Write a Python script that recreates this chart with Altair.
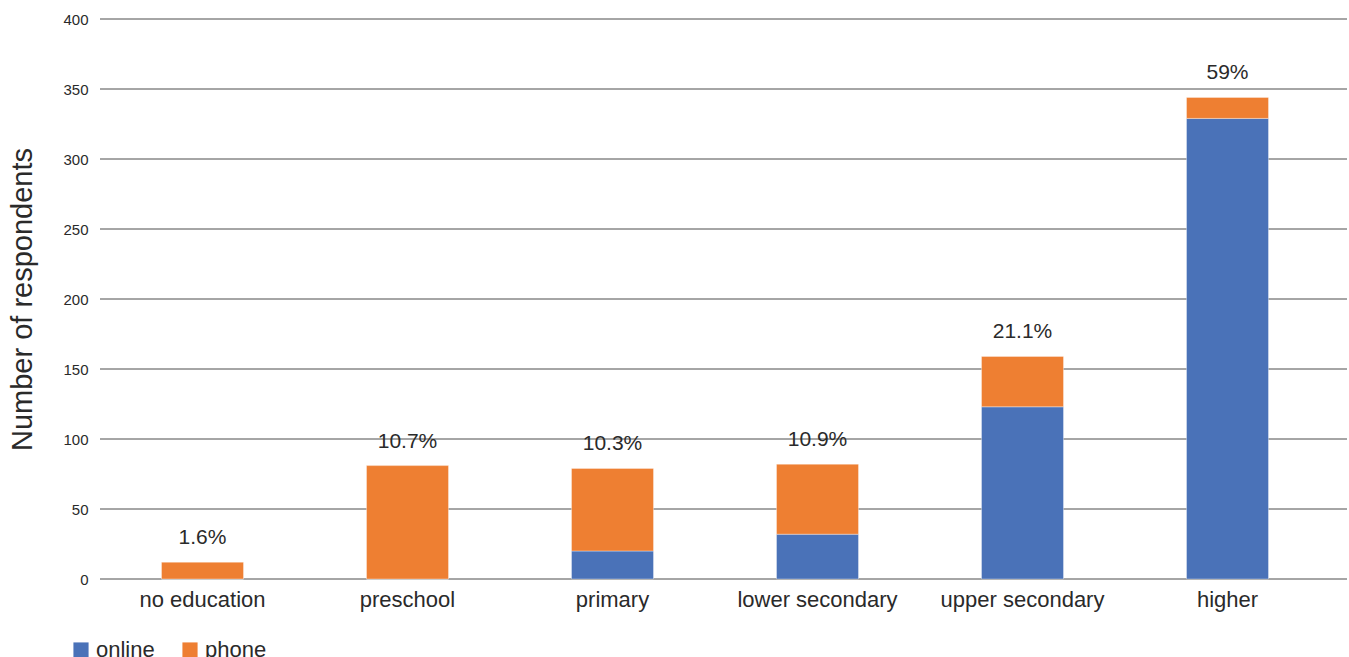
import altair as alt
import pandas as pd

categories = ["no education", "preschool", "primary", "lower secondary", "upper secondary", "higher"]
online = [0, 0, 20, 32, 123, 329]
phone = [12, 81, 59, 50, 36, 15]
pct_labels = ["1.6%", "10.7%", "10.3%", "10.9%", "21.1%", "59%"]
series = ["online", "phone"]
colors = ["#4A72B8", "#EE7F32"]
grid_values = [0, 50, 100, 150, 200, 250, 300, 350, 400]

rows = []
for c, o, p in zip(categories, online, phone):
    rows.append({"category": c, "mode": "online", "value": o, "ord": 0})
    rows.append({"category": c, "mode": "phone", "value": p, "ord": 1})
df = pd.DataFrame(rows)
tot = pd.DataFrame({"category": categories,
                    "total": [o + p for o, p in zip(online, phone)],
                    "label": pct_labels})
grid_df = pd.DataFrame({"g": grid_values})

FONT = "Liberation Sans"
TXT = "#2a2a2a"

xscale = alt.Scale(domain=categories, paddingInner=0.6, paddingOuter=0.3, range=[0, 1230])
yscale = alt.Scale(domain=[0, 400])

yaxis = alt.Axis(title="Number of respondents", values=grid_values,
                 labelFontSize=15, labelColor=TXT, labelFont=FONT,
                 labelPadding=12, ticks=False, domain=False, grid=False,
                 titleFontSize=29, titleFontWeight="normal", titleFont=FONT,
                 titleColor=TXT, titlePadding=25)

grid = alt.Chart(grid_df).mark_rule(color="#4d4d4d", strokeWidth=1).encode(
    y=alt.Y("g:Q", scale=yscale, axis=yaxis, title="Number of respondents"),
    x=alt.value(0), x2=alt.value(1247),
)

bars = alt.Chart(df).mark_bar(stroke="#ffffff", strokeWidth=0.6, strokeOpacity=0.6).encode(
    x=alt.X("category:N", scale=xscale, sort=categories,
            axis=alt.Axis(title=None, labelAngle=0, labelFontSize=22, labelColor=TXT,
                          labelFont=FONT, labelPadding=10, ticks=False, domain=False)),
    y=alt.Y("value:Q", stack="zero", scale=yscale, axis=yaxis, title="Number of respondents"),
    color=alt.Color("mode:N", scale=alt.Scale(domain=series, range=colors),
                    legend=alt.Legend(title=None, orient="none", legendX=-30, legendY=620,
                                      direction="horizontal", symbolType="square",
                                      symbolSize=230, symbolStrokeWidth=0, labelFontSize=22,
                                      labelFont=FONT, labelColor=TXT, columnPadding=24,
                                      labelOffset=4)),
    order=alt.Order("ord:Q"),
)

texts = alt.Chart(tot).mark_text(fontSize=21, font=FONT, color=TXT, baseline="middle", dy=-24).encode(
    x=alt.X("category:N", scale=xscale, sort=categories),
    y=alt.Y("total:Q", scale=yscale, axis=yaxis, title="Number of respondents"),
    text="label:N",
)

chart = alt.layer(grid, bars, texts).properties(
    width=1247, height=560,
    autosize=alt.AutoSizeParams(type="none"),
    padding={"left": 100, "top": 19, "right": 2, "bottom": 78},
).configure_view(stroke=None)

chart.save("out.html", embed_options={"renderer": "svg", "actions": False})
